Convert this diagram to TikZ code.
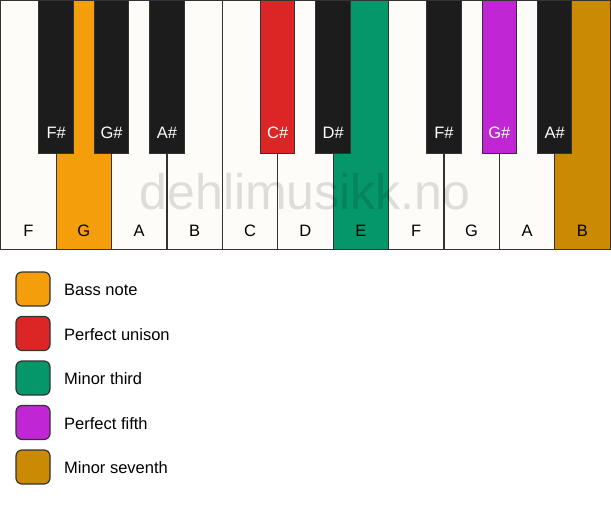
\documentclass[tikz,border=0pt]{standalone}
\usepackage{fontspec}
\setmainfont{Liberation Sans}
\definecolor{ivory}{HTML}{FDFCF8}
\definecolor{keyline}{HTML}{333333}
\definecolor{blackkey}{HTML}{1C1C1C}
\definecolor{cbass}{HTML}{F59E0B}
\definecolor{cunison}{HTML}{DC2626}
\definecolor{cthird}{HTML}{059669}
\definecolor{cfifth}{HTML}{C026D3}
\definecolor{cseventh}{HTML}{CA8A04}
\tikzset{
  whitekey/.style={draw=keyline, line width=1.1pt, fill=ivory},
  blackkeybox/.style={draw=keyline, line width=1pt, fill=blackkey},
  wlabel/.style={font=\fontsize{16.5}{16.5}\selectfont, text=black, anchor=center},
  blabel/.style={font=\fontsize{16.5}{16.5}\selectfont, text=white, anchor=center},
  legendbox/.style={draw=keyline, line width=1.2pt, rounded corners=6pt, minimum width=34pt, minimum height=34pt, inner sep=0pt},
  legendtext/.style={font=\fontsize{16.5}{16.5}\selectfont, anchor=west, inner sep=0pt}
}
\begin{document}
\begin{tikzpicture}[x=1pt,y=-1pt]
\useasboundingbox[fill=white] (0,0) rectangle (611,506);
% white keys
\foreach \i/\n/\c in {0/F/ivory,1/G/cbass,2/A/ivory,3/B/ivory,4/C/ivory,5/D/ivory,6/E/cthird,7/F/ivory,8/G/ivory,9/A/ivory,10/B/cseventh}{
  \pgfmathsetmacro{\xl}{0.75+\i*55.4}
  \pgfmathsetmacro{\xr}{0.75+(\i+1)*55.4}
  \draw[whitekey, fill=\c] (\xl,0.75) rectangle (\xr,249.5);
  \node[wlabel] (w\i) at ({(\xl+\xr)/2},231) {\n};
}
% watermark
\node[font=\fontsize{50}{50}\selectfont, text=black, text opacity=0.12] (wm) at (305,192) {dehlimusikk.no};
% black keys
\foreach \i/\n/\c in {1/F\#/blackkey,2/G\#/blackkey,3/A\#/blackkey,5/C\#/cunison,6/D\#/blackkey,8/F\#/blackkey,9/G\#/cfifth,10/A\#/blackkey}{
  \pgfmathsetmacro{\xc}{0.75+\i*55.4}
  \draw[blackkeybox, fill=\c] (\xc-17.2,0) rectangle (\xc+17.2,153);
  \node[blabel] (b\i) at (\xc,133) {\n};
}
% legend
\foreach \k/\c/\t in {0/cbass/Bass note,1/cunison/Perfect unison,2/cthird/Minor third,3/cfifth/Perfect fifth,4/cseventh/Minor seventh}{
  \node[legendbox, fill=\c] (lb\k) at (33,289+\k*44.5) {};
  \node[legendtext] (lt\k) at (64,290+\k*44.5) {\t};
}
\end{tikzpicture}
\end{document}
